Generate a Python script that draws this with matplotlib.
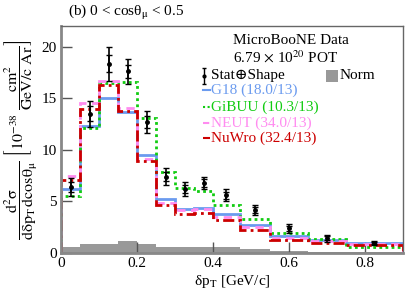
import numpy as np
import matplotlib
matplotlib.use("Agg")
import matplotlib.pyplot as plt
from matplotlib.patches import Rectangle

plt.rcParams['font.family'] = ['Liberation Serif', 'DejaVu Serif']
plt.rcParams['mathtext.fontset'] = 'stix'

# Bin edges in delta pT [GeV/c]
edges = np.array([0.0, 0.05, 0.10, 0.15, 0.20, 0.25, 0.30, 0.35, 0.40, 0.47, 0.55, 0.65, 0.75, 0.90])

# MicroBooNE data with total (stat+shape) and stat-only errors
data = [6.4, 13.5, 18.35, 17.6, 12.7, 7.4, 6.2, 6.8, 5.6, 4.2, 2.4, 1.45, 0.97]
err_tot = [0.85, 1.25, 1.65, 1.2, 1.1, 0.8, 0.65, 0.6, 0.6, 0.5, 0.45, 0.33, 0.2]
err_stat = [0.45, 0.7, 0.8, 0.65, 0.6, 0.45, 0.4, 0.35, 0.35, 0.3, 0.25, 0.2, 0.12]

# Normalisation uncertainty band
norm = [0.6, 0.85, 0.85, 1.15, 0.85, 0.6, 0.55, 0.55, 0.55, 0.35, 0.25, 0.15, 0.1]

# Generator predictions
g18 = [6.2, 12.3, 15.05, 13.7, 9.5, 5.25, 4.3, 4.4, 3.75, 2.7, 1.65, 1.25, 0.95]
gibuu = [5.5, 12.1, 16.5, 16.6, 13.1, 7.9, 6.3, 6.05, 4.65, 3.3, 1.95, 1.35, 0.6]
neut = [7.5, 14.5, 16.7, 14.1, 9.1, 4.85, 4.2, 4.3, 3.5, 2.5, 1.45, 1.15, 0.85]
nuwro = [7.1, 14.0, 16.3, 13.8, 8.9, 4.65, 3.8, 3.9, 3.25, 2.25, 1.25, 0.97, 0.78]

models = [
    ("G18 (18.0/13)", g18, "#6b9bef", "-"),
    ("GiBUU (10.3/13)", gibuu, "#11cc11", (0, (1, 1.2))),
    ("NEUT (34.0/13)", neut, "#ff8cf0", (0, (3, 2))),
    ("NuWro (32.4/13)", nuwro, "#cc0000", (0, (4, 1.5, 1, 1.5))),
]

fig = plt.figure(figsize=(4.07, 2.95), dpi=100)
ax = fig.add_axes([0.150, 0.142, 0.840, 0.770])

centers = 0.5 * (edges[:-1] + edges[1:])

ax.stairs(norm, edges, fill=True, color="#999999", lw=0, zorder=1)

for name, vals, col, ls in models:
    ax.stairs(vals, edges, color=col, linestyle=ls, lw=2, zorder=2)

ax.errorbar(centers, data, yerr=err_tot, fmt='none', ecolor='k', elinewidth=1.2, capsize=2, capthick=1, zorder=4)
ax.errorbar(centers, data, yerr=err_stat, fmt='o', color='k', ms=2.5, elinewidth=1.2, capsize=2, capthick=1, zorder=5)

ax.set_xlim(0, 0.9)
ax.set_ylim(0, 22)
ax.set_xticks([0, 0.2, 0.4, 0.6, 0.8])
ax.set_xticklabels(["0", "0.2", "0.4", "0.6", "0.8"])
ax.set_yticks([0, 5, 10, 15, 20])
ax.tick_params(direction='in', length=8, width=1, color='#555555', labelsize=11, pad=3)
for side in ['left', 'bottom']:
    ax.spines[side].set_linewidth(2)
    ax.spines[side].set_color('#888888')
for side in ['top', 'right']:
    ax.spines[side].set_linewidth(1)
    ax.spines[side].set_color('#666666')

ax.set_xlabel('δp$_\\mathrm{T}$ [GeV/c]', fontsize=11, labelpad=2)
ax.set_ylabel(r'$\dfrac{\mathrm{d^{2}\sigma}}{\mathrm{d\delta p_{T}\,dcos\theta_{\mu}}}\ \left[10^{-38}\ \dfrac{\mathrm{cm}^{2}}{\mathrm{GeV/c\ Ar}}\right]$',
              fontsize=11.5, labelpad=2)

fig.text(68 / 407, 0.958, '(b) 0 < cosθ$_\\mathrm{μ}$ < 0.5', fontsize=11, va='center', ha='left')

# Legend drawn by hand in axes fraction
tr = ax.transAxes
ax.text(0.503, 0.938, "MicroBooNE Data", transform=tr, fontsize=11, va='center')
ax.text(0.503, 0.863, r'6.79 $\times$ 10$^{20}$ POT', transform=tr, fontsize=11, va='center')
ax.errorbar([0.418], [0.78], yerr=[0.035], transform=tr, fmt='o', color='k', ms=2, capsize=1.5, elinewidth=1)
ax.text(0.44, 0.78, "Stat\u2295Shape", transform=tr, fontsize=11, va='center')
ax.add_patch(Rectangle((0.775, 0.755), 0.035, 0.05, transform=tr, color="#999999", lw=0))
ax.text(0.816, 0.78, "Norm", transform=tr, fontsize=11, va='center')
ys = [0.718, 0.643, 0.573, 0.507]
for (name, vals, col, ls), y in zip(models, ys):
    ax.plot([0.415, 0.437], [y, y], transform=tr, color=col, linestyle=ls, lw=1.5)
    ax.text(0.44, y, name, transform=tr, fontsize=11, va='center', color=col)

fig.savefig("out.png", dpi=100)
